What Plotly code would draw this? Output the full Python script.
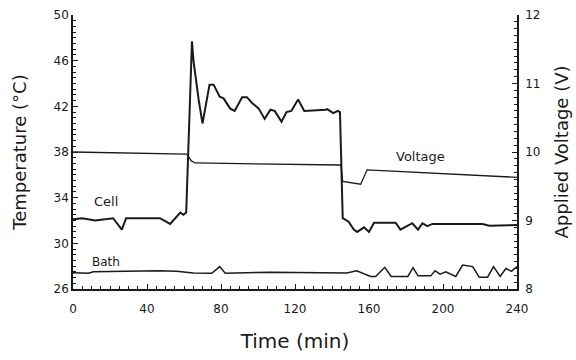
import plotly.graph_objects as go

# ---- data ----
cell_t = [0, 5, 12, 21.7, 26.4, 28.7, 35, 47, 52.5, 58, 59.6, 61.2, 64.3, 65.2, 67.9, 70,
          73.8, 76, 79.3, 81.4, 85, 87.4, 91.4, 94, 96.8, 100.4, 103.6, 106.7, 109, 112.7,
          115.4, 118, 121.7, 125, 136.5, 137.4, 140.7, 143.2, 144.3, 145.8, 149, 151.8,
          153.6, 157.3, 160, 162.7, 166.3, 170, 174.4, 177, 180.8, 183.4, 186.5, 188.9,
          191.5, 194.3, 221.4, 225, 240]
cell_T = [32.1, 32.2, 32.0, 32.2, 31.2, 32.2, 32.2, 32.2, 31.7, 32.7, 32.5, 32.7, 47.7, 45.9,
          42.6, 40.5, 43.9, 43.9, 42.85, 42.7, 41.8, 41.6, 42.8, 42.8, 42.3, 41.8, 40.9, 41.7,
          41.6, 40.66, 41.5, 41.6, 42.6, 41.6, 41.7, 41.75, 41.4, 41.6, 41.5, 32.2, 31.9, 31.2,
          31.0, 31.4, 31.0, 31.8, 31.8, 31.8, 31.8, 31.2, 31.5, 31.76, 31.2, 31.76, 31.5, 31.7,
          31.7, 31.55, 31.6]

bath_t = [0, 8.3, 11, 30, 47, 56, 65, 75, 79.3, 82.3, 106.7, 133.8, 148, 153.3, 160.9, 163.6,
          168.5, 172, 181, 183.8, 186.5, 193.4, 195.7, 198.4, 201.5, 206.9, 210.6, 216, 219.6,
          224.1, 227.3, 230.9, 234, 237, 240]
bath_T = [27.43, 27.38, 27.5, 27.55, 27.6, 27.55, 27.4, 27.38, 27.96, 27.38, 27.47, 27.43,
          27.4, 27.6, 27.1, 27.1, 27.9, 27.1, 27.1, 27.87, 27.15, 27.15, 27.6, 27.3, 27.5,
          27.1, 28.1, 27.96, 27.03, 27.03, 27.96, 27.1, 27.8, 27.55, 27.96]

volt_t = [0, 61.5, 62.5, 64, 66, 144.8, 145.8, 155.5, 159, 240]
volt_V = [10.0, 9.97, 9.93, 9.87, 9.84, 9.81, 9.57, 9.53, 9.74, 9.63]

x_ticks = [0, 40, 80, 120, 160, 200, 240]
temp_ticks = [26, 30, 34, 38, 42, 46, 50]
volt_ticks = [8, 9, 10, 11, 12]

FONT = "DejaVu Sans"
BLK = "#1a1a1a"

fig = go.Figure()
fig.add_trace(go.Scatter(x=cell_t, y=cell_T, mode="lines",
                         line=dict(color=BLK, width=2.0), showlegend=False))
fig.add_trace(go.Scatter(x=bath_t, y=bath_T, mode="lines",
                         line=dict(color=BLK, width=1.5), showlegend=False))
fig.add_trace(go.Scatter(x=volt_t, y=volt_V, mode="lines", yaxis="y2",
                         line=dict(color=BLK, width=1.3), showlegend=False))

fig.add_annotation(x=18, y=33.7, text="Cell", showarrow=False,
                   font=dict(family=FONT, size=13, color=BLK))
fig.add_annotation(x=18, y=28.4, text="Bath", showarrow=False,
                   font=dict(family=FONT, size=12, color=BLK))
fig.add_annotation(x=188, y=37.6, text="Voltage", showarrow=False,
                   font=dict(family=FONT, size=13, color=BLK))

axis_common = dict(showgrid=False, zeroline=False, showline=True, linecolor=BLK, linewidth=1.5,
                   ticks="inside", ticklen=5, tickcolor=BLK, tickwidth=1.2, automargin=False,
                   tickfont=dict(family=FONT, size=12, color=BLK))

fig.update_layout(
    width=576, height=360,
    margin=dict(l=73, r=59, t=15, b=71),
    paper_bgcolor="white", plot_bgcolor="white",
    xaxis=dict(range=[0, 240], tickvals=x_ticks, ticktext=[str(v) for v in x_ticks],
               ticklabelstandoff=8,
               title=dict(text="Time (min)", font=dict(family=FONT, size=20, color=BLK), standoff=19),
               minor=dict(dtick=5, ticks="inside", ticklen=3, tickcolor=BLK),
               **axis_common),
    yaxis=dict(range=[26, 50], tickvals=temp_ticks, ticktext=[str(v) for v in temp_ticks],
               title=dict(text="Temperature (°C)", font=dict(family=FONT, size=18, color=BLK), standoff=22),
               minor=dict(dtick=0.5, ticks="inside", ticklen=3, tickcolor=BLK),
               **axis_common),
    yaxis2=dict(range=[8, 12], overlaying="y", side="right",
                tickvals=volt_ticks, ticktext=[str(v) for v in volt_ticks],
                ticklabelstandoff=4,
                title=dict(text="Applied Voltage (V)", font=dict(family=FONT, size=18, color=BLK), standoff=16),
                minor=dict(dtick=0.1, ticks="inside", ticklen=3, tickcolor=BLK),
                **axis_common),
)

fig.write_html("out.html")
